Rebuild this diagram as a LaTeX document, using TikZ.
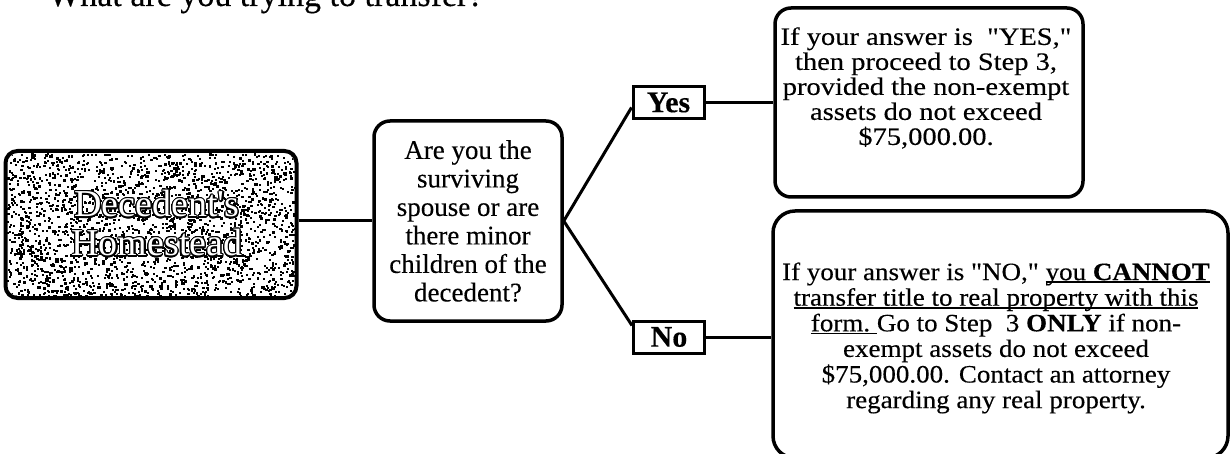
\documentclass[tikz,border=0pt]{standalone}
\usepackage{fontspec}
\setmainfont{Liberation Serif}[FakeBold=0.3]
\newfontfamily\qfont{Liberation Serif}[FakeBold=0.3]
\newfontfamily\yfont{Liberation Serif}[FakeStretch=1.14,FakeBold=0.3]
\newfontfamily\nfont{Liberation Serif}[FakeStretch=1.08,FakeBold=0.3]
\newfontfamily\dfont{Liberation Serif}
\usepackage{contour}
\contourlength{1.2pt}
\newcommand\myul[1]{\setbox0\hbox{#1}\rlap{\rule[-3pt]{\wd0}{1.8pt}}\box0}
\begin{document}
\begin{tikzpicture}[x=1pt,y=-1pt,
  conn/.style={line width=3pt},
  rbox/.style={draw, line width=3.5pt, rounded corners=#1, fill=white, inner sep=0pt},
  rbox/.default=16pt,
  lbl/.style={draw, line width=3pt, minimum width=71pt, minimum height=32pt, inner sep=0pt, font=\fontsize{30}{32}\selectfont\bfseries},
]
\useasboundingbox (0,0) rectangle (1231,454);
\clip (0,0) rectangle (1231,454);

\node[anchor=base west, inner sep=0pt, font=\fontsize{34}{36}\selectfont] (title) at (48,6) {What are you trying to transfer?};

% Decedent's Homestead
\node[rbox=12pt, line width=4pt, minimum width=291pt, minimum height=147pt] (dec) at (151,224.5) {};
\begin{scope}
  \clip[rounded corners=12pt] (7,153) rectangle (295,296);
  \pgfmathsetseed{42}
  \foreach \i in {1,...,1900}{
    \pgfmathsetmacro\rx{7+rnd*288}
    \pgfmathsetmacro\ry{153+rnd*143}
    \fill (\rx,\ry) rectangle ++(2.1,2.1);
  }
  \foreach \i in {1,...,350}{
    \pgfmathsetmacro\rx{7+rnd*288}
    \pgfmathsetmacro\ry{153+rnd*143}
    \fill (\rx,\ry) rectangle ++(3.2,2.6);
  }
\end{scope}
\node[align=center, inner sep=0pt, font=\dfont\fontsize{38}{39}\selectfont, text=white] (dectext) at (157,224) {\contour{black}{Decedent's}\\\contour{black}{Homestead}};

% question
\node[rbox=16pt, minimum width=188pt, minimum height=200pt, align=center, font=\qfont\fontsize{27}{28.5}\selectfont] (q) at (468,221) {Are you the\\surviving\\spouse or are\\there minor\\children of the\\decedent?};

% labels
\node[lbl] (yes) at (668.5,102.5) {Yes};
\node[lbl] (no) at (669,337) {No};

% YES box
\node[rbox=16pt, minimum width=308pt, minimum height=189pt] (ybox) at (929,102.5) {};
\node[align=center, inner sep=0pt, font=\yfont\fontsize{25}{25}\selectfont] (ytext) at (926,88) {If your answer is\ \ "YES,"\\then proceed to Step 3,\\provided the non-exempt\\assets do not exceed\\\$75,000.00.};

% NO box
\node[rbox=22pt, minimum width=455pt, minimum height=247pt] (nbox) at (1000.5,334.5) {};
\node[align=center, inner sep=0pt, font=\nfont\fontsize{25}{25.6}\selectfont] (ntext) at (996,338) {If your answer is "NO," \myul{you \textbf{CANNOT}}\\\myul{transfer title to real property with this}\\\myul{form.\ } Go to Step\ \ 3 \textbf{ONLY} if non-\\exempt assets do not exceed\\\$75,000.00. Contact an attorney\\regarding any real property.};

% connectors
\draw[conn] (q.west -| dec.east) -- (q.west);
\draw[conn] (q.east) -- ([yshift=-5pt]yes.west);
\draw[conn] (q.east) -- ([yshift=-6pt]no.north west);
\draw[conn] (yes.east) -- (yes.east -| ybox.west);
\draw[conn] (no.east) -- (no.east -| nbox.west);
\end{tikzpicture}
\end{document}
